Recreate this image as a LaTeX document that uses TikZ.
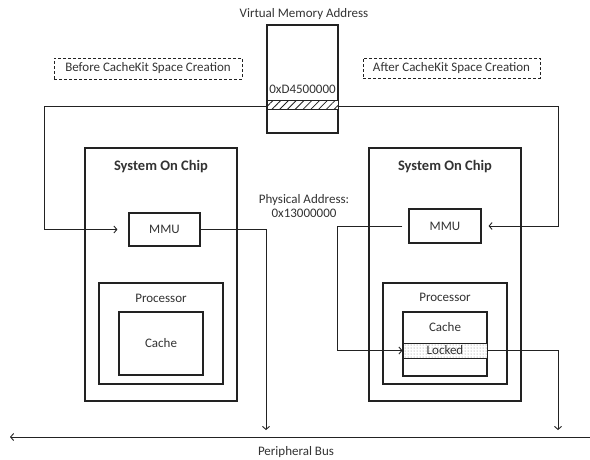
\documentclass[tikz,border=0pt]{standalone}
\usepackage{fontspec}
\setmainfont{Carlito}
\usetikzlibrary{arrows.meta,patterns,patterns.meta}
\definecolor{ink}{HTML}{222222}
\definecolor{txt}{HTML}{333333}
\begin{document}
\begin{tikzpicture}[x=1pt,y=-1pt,
  every node/.style={font=\fontsize{13}{15}\selectfont, text=txt, inner sep=0pt},
  box/.style={draw=ink, line width=1.1pt, fill=white},
  dashbox/.style={draw=ink, line width=1pt, dashed, dash pattern=on 3pt off 2pt},
  wire/.style={draw=ink, line width=0.9pt},
  arr/.style={wire, -{Straight Barb[length=3pt,width=7pt]}},
  title/.style={font=\fontsize{14.5}{16}\selectfont\bfseries}
]
\useasboundingbox (0,0) rectangle (590,459);

% virtual memory column
\node (vmtitle) at (304,14) {Virtual Memory Address};
\coordinate (ltop) at (44,106);
\coordinate (rtop) at (558,106);

% labels for the two halves
\node[dashbox, minimum width=188pt, minimum height=21pt] (before) at (148,68.5) {Before CacheKit Space Creation};
\node[dashbox, minimum width=177pt, minimum height=20pt] (after) at (451.5,68) {After CacheKit Space Creation};

% system on chip, before
\node[box, minimum width=152pt, minimum height=253pt] (lsoc) at (161,274.5) {};
\node[title] (lsoct) at (161,167) {System On Chip};
\node[box, minimum width=71pt, minimum height=33pt] (lmmu) at (164.5,229.5) {MMU};
\node[box, minimum width=124pt, minimum height=101pt] (lproc) at (161,333.5) {};
\node (lproct) at (161,298) {Processor};
\node[box, minimum width=84pt, minimum height=63pt] (lcache) at (161,343.5) {Cache};

% system on chip, after
\node[box, minimum width=152pt, minimum height=253pt] (rsoc) at (445,274.5) {};
\node[title] (rsoct) at (445,167) {System On Chip};
\node[box, minimum width=72pt, minimum height=34pt] (rmmu) at (445,226) {MMU};
\node[box, minimum width=124pt, minimum height=101pt] (rproc) at (445,333.5) {};
\node (rproct) at (445,297) {Processor};
\node[box, minimum width=84pt, minimum height=64pt] (rcache) at (445,344) {};
\node (rcachet) at (445,327) {Cache};
\node[draw=ink, line width=1pt, preaction={fill=white},
      pattern=dots, pattern color=gray,
      minimum width=84pt, minimum height=15pt] (locked) at (445,350.5) {Locked};

\node[align=center, font=\fontsize{13}{14}\selectfont] (phys) at (304,206) {Physical Address:\\0x13000000};

% peripheral bus
\coordinate (busR) at (590,437);
\coordinate (busL) at (10,437);
\coordinate (lbus) at (266,437);
\coordinate (rbus) at (558,437);
\coordinate (rjog) at (337,350.5);
\node (bust) at (296,452) {Peripheral Bus};

% translation paths from the virtual address
\draw[wire] (ltop) -- (rtop);
\draw[arr, shorten >=11pt] (ltop) |- (lmmu.west);
\draw[arr, shorten >=7pt] (rtop) |- (rmmu.east);

% virtual memory block with the mapped page
\node[box, minimum width=71pt, minimum height=108pt] (mem) at (302.5,79) {};
\node[draw=ink, line width=1pt, preaction={fill=white},
      pattern={Lines[angle=45,distance=5.5pt,line width=0.8pt]}, pattern color=ink,
      minimum width=71pt, minimum height=9pt] (page) at (302.5,104.5) {};
\node (vaddr) at (302.5,89) {0xD4500000};

% physical address routes
\draw[arr, shorten >=7pt] (lmmu.east) -| (lbus);
\draw[arr] ([xshift=-6pt]rmmu.west) -| (rjog) -- (locked.west);
\draw[arr, shorten >=7pt] (locked.east) -| (rbus);
\draw[arr] (busR) -- (busL);
\end{tikzpicture}
\end{document}
